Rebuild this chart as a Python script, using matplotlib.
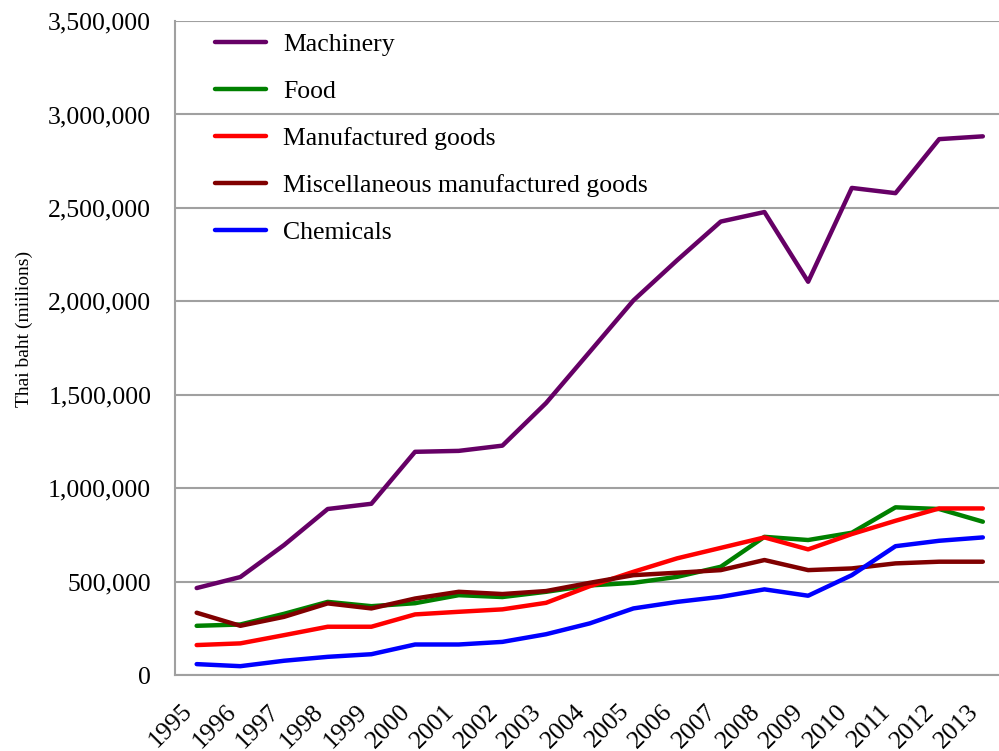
import matplotlib
matplotlib.use("Agg")
import matplotlib.pyplot as plt
from matplotlib.ticker import FuncFormatter

years = list(range(1995, 2014))

machinery = [466000, 525000, 696000, 889000, 917000, 1195000, 1200000, 1228000,
             1456000, 1730000, 2005000, 2220000, 2427000, 2478000, 2105000,
             2607000, 2579000, 2868000, 2883000]
food = [264000, 271000, 328000, 392000, 369000, 385000, 428000, 418000,
        446000, 480000, 494000, 526000, 580000, 740000, 723000, 762000,
        898000, 889000, 821000]
manufactured = [161000, 170000, 214000, 259000, 259000, 325000, 339000, 352000,
                387000, 476000, 553000, 625000, 681000, 737000, 673000, 755000,
                826000, 892000, 892000]
misc_manufactured = [334000, 264000, 312000, 384000, 357000, 410000, 446000,
                     434000, 450000, 494000, 535000, 548000, 562000, 616000,
                     562000, 571000, 598000, 607000, 607000]
chemicals = [59000, 48000, 77000, 98000, 112000, 164000, 164000, 178000,
             219000, 277000, 357000, 392000, 419000, 459000, 425000, 535000,
             690000, 719000, 737000]

series = [
    ("Machinery", machinery, "#660066"),
    ("Food", food, "#008000"),
    ("Manufactured goods", manufactured, "#ff0000"),
    ("Miscellaneous manufactured goods", misc_manufactured, "#800000"),
    ("Chemicals", chemicals, "#0000ff"),
]

plt.rcParams["font.family"] = ["Liberation Serif", "DejaVu Serif"]

fig = plt.figure(figsize=(9.99, 7.51), dpi=100)
ax = fig.add_axes([0.175, 0.101, 0.825, 0.871])

grid_col = "#a0a0a0"

for name, vals, col in series:
    ax.plot(years, vals, color=col, linewidth=3.2, label=name,
            solid_capstyle="round", solid_joinstyle="round")

ax.set_xlim(1994.5, 2013.37)
ax.set_ylim(0, 3500000)
ax.set_yticks(range(0, 3500001, 500000))
ax.yaxis.set_major_formatter(FuncFormatter(lambda v, _: "{:,.0f}".format(v)))
ax.set_xticks(years)
ax.set_xticklabels([str(y) for y in years], rotation=45, ha="right")

ax.grid(axis="y", color=grid_col, linewidth=1.5)
ax.set_axisbelow(True)
for side in ("top", "right"):
    ax.spines[side].set_visible(False)
for side in ("left", "bottom"):
    ax.spines[side].set_color(grid_col)
    ax.spines[side].set_linewidth(1.5)

ax.tick_params(axis="y", length=0, pad=17, labelsize=18.5)
ax.tick_params(axis="x", length=0, pad=18, labelsize=18.5)

ax.set_ylabel("Thai baht (miilions)", fontsize=14)
ax.yaxis.set_label_coords(-0.1715, 0.529)

ax.legend(loc="upper left", bbox_to_anchor=(0.0485, 0.981), frameon=False,
          fontsize=18.5, borderpad=0, borderaxespad=0, handlelength=2,
          handletextpad=0.65, labelspacing=0.93)

fig.savefig("out.png", dpi=100)
